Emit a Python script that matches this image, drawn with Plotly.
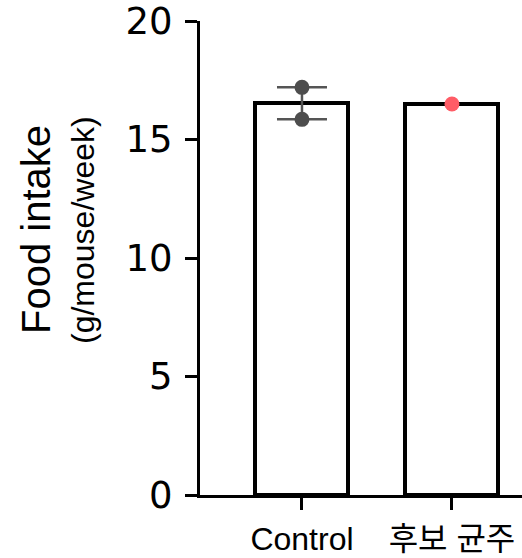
import numpy as np
import plotly.graph_objects as go

categories = ["Control", "후보 균주"]
control_points = [17.2, 15.85]
candidate_points = [16.5]
y_ticks = [0, 5, 10, 15, 20]

groups = [control_points, candidate_points]
means = [float(np.mean(g)) for g in groups]
sems = [float(np.std(g, ddof=1) / np.sqrt(len(g))) if len(g) > 1 else 0.0 for g in groups]
dot_colors = ["#4d4d4d", "#ff5c66"]

fig = go.Figure()
fig.add_trace(go.Bar(
    x=categories, y=means, width=0.62,
    marker=dict(color="white", line=dict(color="black", width=4)),
    showlegend=False, hoverinfo="skip",
))
# error bar (only for group with n>1)
fig.add_trace(go.Scatter(
    x=[categories[0]], y=[means[0]], mode="markers",
    marker=dict(size=1, color="rgba(0,0,0,0)"),
    error_y=dict(type="data", array=[sems[0]], color="#555555", thickness=2.5, width=25),
    showlegend=False,
))
for cat, pts, col in zip(categories, groups, dot_colors):
    fig.add_trace(go.Scatter(
        x=[cat] * len(pts), y=pts, mode="markers",
        marker=dict(size=15, color=col, line=dict(width=0)),
        showlegend=False,
    ))

fig.update_layout(
    width=522, height=558,
    margin=dict(l=200, r=0, t=21, b=63, autoexpand=False),
    plot_bgcolor="white", paper_bgcolor="white",
    font=dict(family="Arial, Liberation Sans", color="black"),
    bargap=0,
)
fig.update_xaxes(
    range=[-0.68, 1.467], showline=True, linecolor="black", linewidth=3,
    ticks="outside", ticklen=12, tickwidth=2.5, tickcolor="black",
    tickfont=dict(size=32, family="Arial, Liberation Sans, Noto Sans CJK KR"),
    showgrid=False, zeroline=False, ticklabelstandoff=2, automargin=False,
    ticklabeloverflow="allow",
)
fig.update_yaxes(
    range=[0, 20], tickvals=y_ticks, showline=True, linecolor="black", linewidth=3,
    ticks="outside", ticklen=12, tickwidth=2.5, tickcolor="black",
    tickfont=dict(size=37, family="DejaVu Sans"), showgrid=False, zeroline=False,
    ticklabelstandoff=5, automargin=False, ticklabeloverflow="allow",
)
fig.add_annotation(text="Food intake", xref="paper", yref="paper", x=0, y=0.5,
                   xanchor="center", yanchor="middle", xshift=-164, yshift=28,
                   textangle=-90, showarrow=False, font=dict(size=40))
fig.add_annotation(text="(g/mouse/week)", xref="paper", yref="paper", x=0, y=0.5,
                   xanchor="center", yanchor="middle", xshift=-117, yshift=28,
                   textangle=-90, showarrow=False, font=dict(size=32))

fig.write_html("out.html", config={"displayModeBar": False},
               post_script="document.body.style.margin='0';document.body.style.padding='0';")
